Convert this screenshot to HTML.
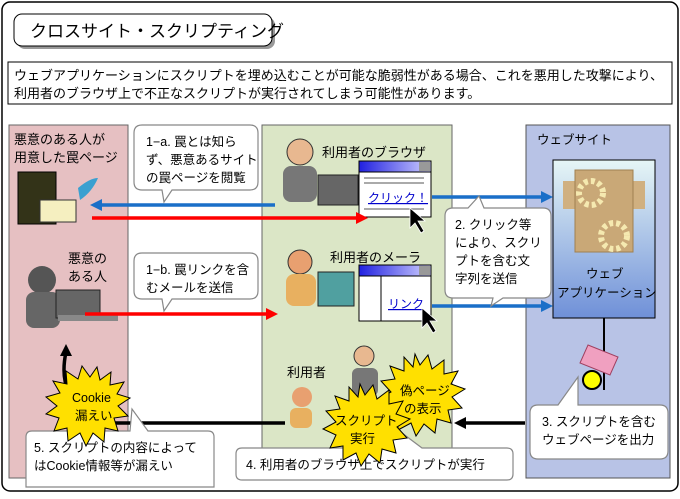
<!DOCTYPE html>
<html><head><meta charset="utf-8"><style>
body{margin:0;background:#fff;width:680px;height:494px;overflow:hidden}
svg text{font-family:"Liberation Sans","Noto Sans CJK JP",sans-serif;fill:#000}
</style></head><body>
<svg width="680" height="494" viewBox="0 0 680 494">
<defs>
<linearGradient id="app" x1="0" y1="0" x2="0" y2="1"><stop offset="0" stop-color="#e6f6f6"/><stop offset="1" stop-color="#6f90d8"/></linearGradient>
<linearGradient id="bar" x1="0" y1="0" x2="1" y2="0"><stop offset="0" stop-color="#2020e0"/><stop offset="1" stop-color="#d0d0ff"/></linearGradient>
</defs>
<rect x="2" y="2" width="676" height="489" rx="8" fill="#fff" stroke="#000" stroke-width="1.5"/>
<rect x="17" y="17" width="258" height="32" rx="8" fill="#999"/>
<rect x="14" y="14" width="258" height="32" rx="8" fill="#fff" stroke="#000"/>
<text x="30" y="37" font-size="17">クロスサイト・スクリプティング</text>
<rect x="8" y="62" width="664" height="42" fill="#fff" stroke="#000"/>
<text x="14" y="80" font-size="13">ウェブアプリケーションにスクリプトを埋め込むことが可能な脆弱性がある場合、これを悪用した攻撃により、</text>
<text x="14" y="98" font-size="13">利用者のブラウザ上で不正なスクリプトが実行されてしまう可能性があります。</text>
<rect x="9" y="125" width="119" height="353" fill="#e6c0c2" stroke="#666"/>
<rect x="262" y="125" width="190" height="353" fill="#dbe6c6" stroke="#666"/>
<rect x="526" y="125" width="144" height="353" fill="#b8c3e6" stroke="#555"/>
<text x="14" y="144" font-size="13">悪意のある人が</text>
<text x="14" y="162" font-size="13">用意した罠ページ</text>
<text x="537" y="144" font-size="12.5">ウェブサイト</text>
<rect x="553" y="160" width="102" height="158" fill="url(#app)" stroke="#000"/>
<rect x="563" y="181" width="20" height="28" fill="#d0b080"/><rect x="625" y="181" width="20" height="28" fill="#d0b080"/>
<rect x="575" y="170" width="58" height="82" fill="#c9a877" stroke="#a08050"/>
<circle cx="591" cy="193" r="12" fill="none" stroke="#f5e9b0" stroke-width="6" stroke-dasharray="4 3"/>
<circle cx="614" cy="236" r="13" fill="none" stroke="#f5e9b0" stroke-width="6" stroke-dasharray="4 3"/>
<text x="586" y="278" font-size="12.5">ウェブ</text>
<text x="557" y="297" font-size="12.5">アプリケーション</text>
<rect x="18" y="172" width="38" height="52" fill="#333318" stroke="#000"/>
<rect x="40" y="200" width="36" height="22" fill="#f5efc0" stroke="#333"/>
<path d="M78 188 Q90 178 98 178 Q92 192 80 200Z" fill="#3aa0d0"/>
<text x="68" y="263" font-size="13">悪意の</text>
<text x="68" y="281" font-size="13">ある人</text>
<circle cx="42" cy="280" r="14" fill="#555"/><rect x="26" y="292" width="34" height="36" rx="8" fill="#666"/>
<rect x="56" y="290" width="44" height="28" fill="#666" stroke="#222"/><rect x="58" y="315" width="60" height="6" fill="#888"/>
<text x="322" y="157" font-size="13">利用者のブラウザ</text>
<text x="330" y="262" font-size="13">利用者のメーラ</text>
<text x="287" y="377" font-size="13">利用者</text>
<circle cx="300" cy="152" r="13" fill="#e8b890" stroke="#333"/><rect x="283" y="166" width="34" height="36" rx="8" fill="#777"/>
<rect x="318" y="175" width="40" height="30" fill="#666" stroke="#222"/>
<circle cx="300" cy="262" r="12" fill="#e8a070" stroke="#333"/><rect x="286" y="274" width="30" height="32" rx="8" fill="#e8b060"/>
<rect x="318" y="272" width="36" height="34" fill="#50a0a0" stroke="#222"/>
<circle cx="364" cy="356" r="10" fill="#e8b890" stroke="#333"/><rect x="352" y="368" width="26" height="28" rx="6" fill="#777"/>
<circle cx="302" cy="397" r="10" fill="#e8a070"/><rect x="290" y="408" width="22" height="20" rx="6" fill="#e8b060"/>
<rect x="359" y="161" width="72" height="56" fill="#fff" stroke="#000"/>
<rect x="359" y="161" width="72" height="11" fill="url(#bar)" stroke="#000"/><rect x="419" y="162" width="11" height="9" fill="#999"/>
<line x1="364" y1="178" x2="424" y2="178" stroke="#aaa" stroke-width="2"/><line x1="364" y1="183" x2="424" y2="183" stroke="#aaa" stroke-width="2"/>
<text x="368" y="202" font-size="12" style="fill:#00c;text-decoration:underline">クリック！</text>
<line x1="364" y1="209" x2="424" y2="209" stroke="#aaa" stroke-width="2"/>
<path d="M410 208 l0 20 5 -5 6 10 3 -2 -6 -10 7 0z" fill="#000" stroke="#fff" stroke-width=".8"/>
<rect x="359" y="265" width="72" height="56" fill="#fff" stroke="#000"/>
<rect x="359" y="265" width="72" height="11" fill="url(#bar)" stroke="#000"/><rect x="419" y="266" width="11" height="9" fill="#999"/>
<line x1="381" y1="276" x2="381" y2="321" stroke="#000"/>
<text x="388" y="308" font-size="12" style="fill:#00c;text-decoration:underline">リンク</text>
<path d="M422 308 l0 20 5 -5 6 10 3 -2 -6 -10 7 0z" fill="#000" stroke="#fff" stroke-width=".8"/>
<g stroke-width="3.5" fill="none">
<line x1="275" y1="205" x2="100" y2="205" stroke="#1a6fc8"/>
<line x1="92" y1="218" x2="358" y2="218" stroke="#f00"/>
<line x1="432" y1="197" x2="542" y2="197" stroke="#1a6fc8"/>
<line x1="432" y1="306" x2="542" y2="306" stroke="#1a6fc8"/>
<line x1="85" y1="314" x2="268" y2="314" stroke="#f00"/>
<line x1="525" y1="423" x2="464" y2="423" stroke="#000"/>
<line x1="100" y1="423" x2="285" y2="423" stroke="#000"/>
<path d="M72 398 Q60 380 66 352" stroke="#000"/>
</g>
<path d="M90 205 l12 -6 0 12z" fill="#1a6fc8"/>
<path d="M368 218 l-12 -6 0 12z" fill="#f00"/>
<path d="M553 197 l-12 -6 0 12z" fill="#1a6fc8"/>
<path d="M553 306 l-12 -6 0 12z" fill="#1a6fc8"/>
<path d="M278 314 l-12 -6 0 12z" fill="#f00"/>
<path d="M454 423 l12 -6 0 12z" fill="#000"/>
<path d="M66 344 l-6 12 12 0z" fill="#000"/>
<line x1="604" y1="318" x2="604" y2="390" stroke="#000" stroke-width="2"/>
<path d="M588 345 l30 12 -8 18 -30 -12z" fill="#f0a0c0" stroke="#a04060"/>
<circle cx="592" cy="380" r="9" fill="#ff0" stroke="#000" stroke-width="2"/>
<g fill="#fff" stroke="#888" stroke-width="1.2">
<path d="M142 125 h108 q8 0 8 8 v49 q0 8 -8 8 h-78 l-8 12 -2 -12 h-20 q-8 0 -8 -8 v-49 q0 -8 8 -8z"/>
<path d="M142 253 h108 q8 0 8 8 v30 q0 8 -8 8 h-78 l-8 12 -2 -12 h-20 q-8 0 -8 -8 v-30 q0 -8 8 -8z"/>
<path d="M453 208 h15 l11 -12 5 12 h59 q8 0 8 8 v74 q0 8 -8 8 h-40 l-12 8 2 -8 h-40 q-8 0 -8 -8 v-74 q0 -8 8 -8z"/>
<path d="M538 405 h20 l20 -28 0 28 h82 q8 0 8 8 v38 q0 8 -8 8 h-122 q-8 0 -8 -8 v-38 q0 -8 8 -8z"/>
<path d="M242 448 h150 l-10 -30 40 30 h85 q6 0 6 6 v20 q0 6 -6 6 h-265 q-6 0 -6 -6 v-20 q0 -6 6 -6z"/>
<path d="M32 431 h98 l2 -22 16 22 h60 q6 0 6 6 v50 h-188 v-50 q0 -6 6 -6z"/>
</g>
<g font-size="12.5">
<text x="146" y="146">1−a. 罠とは知ら</text><text x="146" y="164">ず、悪意あるサイト</text><text x="146" y="182">の罠ページを閲覧</text>
<text x="146" y="274">1−b. 罠リンクを含</text><text x="146" y="292">むメールを送信</text>
<text x="455" y="229">2. クリック等</text><text x="455" y="247">により、スクリ</text><text x="455" y="265">プトを含む文</text><text x="455" y="283">字列を送信</text>
<text x="542" y="426">3. スクリプトを含む</text><text x="542" y="444">ウェブページを出力</text>
<text x="246" y="469">4. 利用者のブラウザ上でスクリプトが実行</text>
<text x="34" y="452">5. スクリプトの内容によって</text><text x="34" y="470">はCookie情報等が漏えい</text>
</g>
<g fill="#ffe000" stroke="#000" stroke-width="1">
<polygon points="90,377 97,367 100,380 111,372 110,385 124,382 117,394 130,398 118,406 128,416 114,418 118,431 105,428 104,442 93,433 86,446 80,433 68,441 67,428 54,431 59,418 46,414 57,406 46,397 60,393 53,381 67,384 66,371 78,379 82,366"/>
<polygon points="420,365 428,355 432,369 444,360 444,374 458,371 451,384 465,389 452,397 462,408 448,410 451,423 437,419 435,433 424,424 416,436 411,423 398,430 398,416 385,418 391,405 378,399 391,392 381,381 395,379 390,366 404,371 404,357 413,367 415,354"/>
<polygon points="365,395 373,385 377,399 389,390 389,404 403,401 396,414 410,419 397,427 407,438 393,440 396,453 382,449 380,463 369,454 361,466 356,453 343,460 343,446 330,448 336,435 323,429 336,422 326,411 340,409 335,396 349,401 349,387 358,397 360,384"/>
</g>
<g font-size="12.5">
<text x="72" y="402">Cookie</text><text x="75" y="420">漏えい</text>
<text x="400" y="395">偽ページ</text><text x="404" y="413">の表示</text>
<text x="335" y="425">スクリプト</text><text x="350" y="443">実行</text>
</g>
</svg>
</body></html>
